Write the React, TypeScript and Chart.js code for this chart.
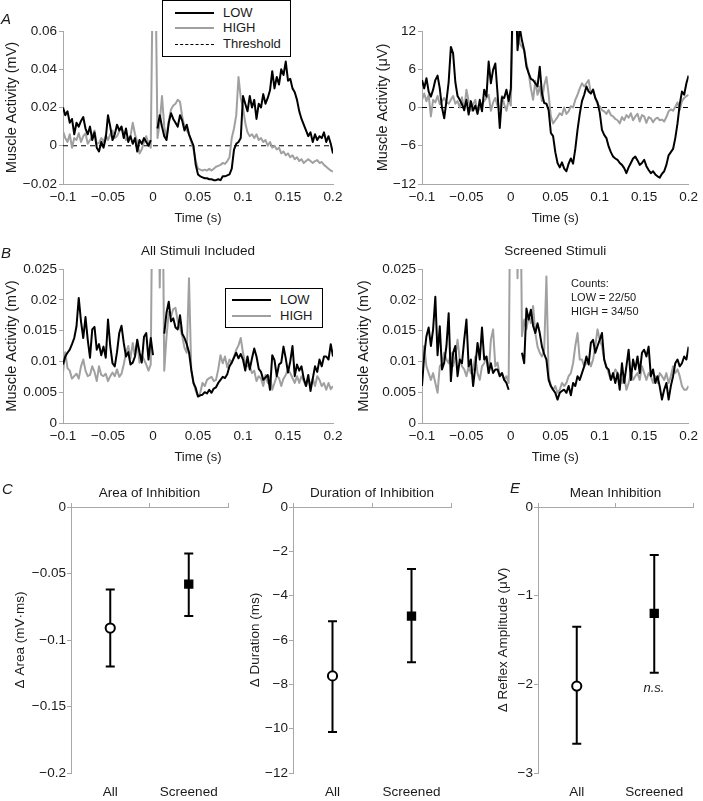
import React, { useEffect, useRef } from 'react';
import { Chart, registerables } from 'chart.js';

Chart.register(...registerables);

const FONT = "'Liberation Sans', Arial, Helvetica, sans-serif";
const TEXT = '#1a1a1a';
const AXIS = '#a8a8a8';
const LOW_COLOR = '#000000';
const HIGH_COLOR = '#a0a0a0';

Chart.defaults.font.family = FONT;
Chart.defaults.color = TEXT;

// time grid: -0.1 s to 0.2 s, 2.5 ms sampling
const T_START = -0.1;
const T_STEP = 0.0025;
const X_TICKS = [-0.1, -0.05, 0, 0.05, 0.1, 0.15, 0.2];

// Panel A (left), mV
const A_LOW_MV = [
  0.02, 0.016, 0.018, 0.012, 0.014, 0.006, 0.012, 0.01, 0.013, 0.015,
  0.009, 0.006, 0.01, 0.003, 0.007, -0.001, -0.003, 0.002, -0.001, 0.004,
  0.016, 0.01, 0.003, 0.006, 0.011, 0.008, 0.01, 0.004, 0.009, 0.002,
  0.005, 0.001, 0.004, -0.003, 0.003, 0.001, 0.004, 0.002, 0.0, 0.003,
  null, null, 0.009, 0.016, 0.01, 0.005, 0.003, 0.012, 0.017, 0.014,
  0.012, 0.01, 0.016, 0.013, 0.008, 0.011, 0.006, 0.003, 0.0, -0.01,
  -0.015, -0.016, -0.0165, -0.017, -0.017, -0.0175, -0.0175, -0.018, -0.018, -0.0175,
  -0.018, -0.016, -0.016, -0.0155, -0.015, -0.012, -0.002, 0.001, 0.002, 0.004,
  0.026, 0.022, 0.018, 0.026, 0.02, 0.024, 0.014, 0.022, 0.02, 0.027,
  0.022, 0.025, 0.029, 0.039, 0.03, 0.036, 0.032, 0.04, 0.037, 0.044,
  0.034, 0.035, 0.03, 0.028, 0.024, 0.018, 0.014, 0.011, 0.008, 0.005,
  0.007, 0.002, 0.006, 0.003, 0.005, 0.004, 0.007, 0.002, 0.005, 0.001,
  -0.004,
];
const A_HIGH_MV = [
  0.0075, 0.004, 0.002, 0.006, -0.001, 0.004, 0.003, 0.0065, 0.002, 0.005,
  0.0065, 0.001, 0.003, 0.005, 0.008, 0.001, 0.0015, 0.004, 0.002, 0.0055,
  0.003, 0.006, 0.008, 0.004, 0.005, 0.0075, 0.01, 0.006, 0.003, 0.004,
  0.005, 0.012, 0.006, 0.002, -0.004, -0.002, 0.002, 0.005, 0.001, -0.001,
  0.1, 0.1, 0.004, 0.012, 0.026, 0.01, 0.004, 0.013, 0.019, 0.021,
  0.022, 0.024, 0.023, 0.015, 0.01, 0.008, 0.006, 0.002, -0.002, -0.008,
  -0.012, -0.0125, -0.013, -0.0125, -0.013, -0.012, -0.013, -0.012, -0.011, -0.0105,
  -0.01, -0.009, -0.0095, -0.008, -0.006, 0.004, 0.009, 0.016, 0.036, 0.025,
  0.02, 0.012, 0.007, 0.005, 0.006, 0.004, 0.006, 0.003, 0.004, 0.002,
  0.003, 0.0, 0.002, -0.001, 0.0, -0.002, -0.001, -0.004, -0.003, -0.005,
  -0.004, -0.006, -0.005, -0.007, -0.006, -0.008, -0.007, -0.009, -0.008, -0.007,
  -0.008, -0.009, -0.008, -0.0075, -0.009, -0.0085, -0.01, -0.011, -0.012, -0.013,
  -0.0135,
];

// Panel A (right), µV
const A_LOW_UV = [
  4.3, 3.0, 4.6, 2.5, 1.7, 2.8, 4.3, 5.0, 3.0, 0.0,
  -1.7, 1.0, 4.0, 9.5, 8.5, 4.0, 1.8, 1.2, 0.5, -0.4,
  1.2, -1.1, 1.0, -0.5, 0.3, -1.0, 1.2, -0.6, 2.8, 1.7,
  7.2, 3.8, 5.9, 6.9, 2.2, -3.2, 1.6, 1.5, 2.8, 1.0,
  3.0, 20, 20, 9, 12.5, 10.5, 9, 6.4, 5.4, 4.5,
  4.3, 3.8, 3.3, 6.4, 2.2, 0.7, 0.6, -0.4, -4.0, -4.5,
  -7.0, -8.7, -9.4, -8.6, -9.6, -10, -8.8, -8.0, -8.8, -6.5,
  -3.5, -1.0, 1.0, 2.0, 3.3, 2.5, 2.2, 2.8, 1.5, 0.8,
  -0.8, -3.5, -4.3, -4.8, -6.1, -7.0, -7.7, -8.0, -8.2, -8.7,
  -9.0, -9.5, -10.3, -9.4, -8.7, -8.0, -7.7, -8.3, -9.0, -8.7,
  -8.2, -9.2, -9.8, -10.3, -10.0, -10.5, -10.8, -11.0, -10.4, -10.0,
  -9.0, -7.5, -7.0, -6.5, -4.8, -2.5, 0.5, 2.5, 2.0, 3.8,
  5.0,
];
const A_HIGH_UV = [
  1.2, 2.2, 1.0, 2.0, -1.4, 1.2, 0.8, 1.8, 0.5, 1.0,
  1.5, 0.8, 0.6, 1.2, 1.8, 0.6, 1.0, 0.0, 1.6, -0.5,
  2.8, 1.0, -0.5, 0.5, 1.2, -0.8, 0.0, 0.6, 1.0, 1.5,
  2.0, -0.5, 0.8, 1.5, 0.2, -0.3, 1.8, 0.5, -0.5, 1.2,
  0.3, 20, 20, 15, 10, 9.5, 9, 7, 5.4, 3,
  1.2, 4.2, 2.0, 3.3, 1.0, 3.5, 4.8, 2.0, -1.4, -2.5,
  -2.0, -1.5, -0.9, -1.2, 0.0, -1.0, -0.6, 0.2, 0.0, 1.2,
  2.0, 3.0, 3.8, 3.3, 3.8, 4.3, 2.2, 2.8, 1.5, 0.5,
  0.2, -0.4, -0.6, -1.0, -0.4, -1.2, -1.4, -1.8, -2.0, -2.5,
  -1.5, -2.0, -1.2, -1.6, -0.9, -2.0, -1.4, -1.0, -2.2, -1.2,
  -1.4, -2.4, -1.5, -1.7, -2.3, -1.8, -1.6, -2.0, -1.9, -2.2,
  -1.5, -0.6, -0.3, -0.5, 0.1, 0.8, -0.4, 1.0, 1.5, 1.8,
  2.0,
];

// Panel B (left), all stimuli, mV
const B_ALL_LOW = [
  0.0095, 0.0108, 0.0114, 0.0119, 0.0128, 0.0138, 0.0157, 0.0203, 0.0165, 0.0138,
  0.0172, 0.0135, 0.0106, 0.0152, 0.0156, 0.0119, 0.0128, 0.011, 0.0124, 0.0106,
  0.0168, 0.0125, 0.0097, 0.0092, 0.0115, 0.0146, 0.0158, 0.013, 0.0108, 0.0115,
  0.0095, 0.0098, 0.0108, 0.0135, 0.0115, 0.0098, 0.014, 0.0146, 0.0103, 0.0138,
  0.011, null, null, null, null, 0.0145, 0.0179, 0.0197, 0.0165, 0.017,
  0.0155, 0.0152, 0.0175, 0.0145, 0.0138, 0.0128, 0.0115, 0.0087, 0.0065, 0.0057,
  0.0043, 0.0045, 0.0046, 0.005, 0.0048, 0.0054, 0.0049, 0.0056, 0.0058, 0.0065,
  0.007, 0.0075, 0.0073, 0.0079, 0.0092, 0.0098, 0.0106, 0.0114, 0.0105, 0.0112,
  0.0103, 0.0085, 0.0108, 0.0087, 0.0105, 0.0121, 0.0108, 0.0088, 0.0083, 0.007,
  0.0074, 0.0078, 0.0054, 0.011, 0.0102, 0.0076, 0.0095, 0.0098, 0.0124, 0.0105,
  0.0082, 0.01, 0.0125, 0.0076, 0.0095, 0.0085, 0.0092, 0.0072, 0.006, 0.0078,
  0.0052, 0.0072, 0.0092, 0.0083, 0.0103, 0.0092, 0.0108, 0.0108, 0.0103, 0.0128,
  0.0108,
];
const B_ALL_HIGH = [
  0.0082, 0.0115, 0.0089, 0.0085, 0.0072, 0.0076, 0.008, 0.0072, 0.0092, 0.0103,
  0.0085, 0.0076, 0.0078, 0.0092, 0.0083, 0.0068, 0.0092, 0.0078, 0.0076, 0.008,
  0.0068, 0.0076, 0.0082, 0.0076, 0.0087, 0.0075, 0.008, 0.0095, 0.0114, 0.0125,
  0.0105, 0.013, 0.0108, 0.0135, 0.0098, 0.011, 0.0103, 0.0095, 0.0085, 0.0095,
  0.05, 0.05, 0.05, 0.022, 0.05, 0.0085, 0.014, 0.018, 0.0173, 0.0185,
  0.0187, 0.0165, 0.0155, 0.0141, 0.0122, 0.0114, 0.0235, 0.0085, 0.0065, 0.0052,
  0.0043, 0.0049, 0.0065, 0.006, 0.007, 0.0073, 0.0075, 0.0068, 0.007, 0.0087,
  0.011, 0.0097, 0.0108, 0.009, 0.0103, 0.0098, 0.0108, 0.0119, 0.0126, 0.0138,
  0.0114, 0.0097, 0.0092, 0.0092, 0.0081, 0.0085, 0.0068, 0.0076, 0.0072, 0.006,
  0.0078, 0.0065, 0.0076, 0.0054, 0.0065, 0.0076, 0.0073, 0.006, 0.0072, 0.0078,
  0.0087, 0.0081, 0.0073, 0.0065, 0.0076, 0.0065, 0.0076, 0.0068, 0.006, 0.007,
  0.0062, 0.0072, 0.006, 0.0076, 0.007, 0.006, 0.0065, 0.0054, 0.0065, 0.0055,
  0.006,
];

// Panel B (right), screened stimuli, mV
const B_SCR_LOW = [
  0.006, 0.011, 0.0141, 0.0155, 0.0125, 0.0152, 0.0205, 0.011, 0.0157, 0.0087,
  0.0098, 0.0125, 0.0178, 0.0068, 0.0114, 0.0125, 0.0076, 0.0103, 0.0097, 0.0135,
  0.0168, 0.0092, 0.0103, 0.006, 0.0092, 0.013, 0.0103, 0.0155, 0.0103, 0.0108,
  0.0081, 0.0097, 0.0081, 0.0087, 0.0087, 0.0076, 0.0081, 0.007, 0.0065, 0.0054,
  null, null, null, null, null, 0.0114, 0.0097, 0.0186, 0.0168, 0.0184,
  0.0158, 0.0146, 0.0162, 0.0146, 0.0124, 0.0112, 0.0103, 0.007, 0.006, 0.0054,
  0.0049, 0.0038, 0.0049, 0.0052, 0.0054, 0.0049, 0.006, 0.0045, 0.0065, 0.006,
  0.0076, 0.007, 0.0081, 0.0092, 0.0108, 0.0095, 0.013, 0.0135, 0.0114, 0.0125,
  0.0135, 0.0146, 0.0103, 0.009, 0.0087, 0.007, 0.0081, 0.0065, 0.0081, 0.0054,
  0.0097, 0.0065, 0.0092, 0.0119, 0.007, 0.0103, 0.0087, 0.0108, 0.0081, 0.0114,
  0.0119, 0.0108, 0.0124, 0.0076, 0.0087, 0.0065, 0.0076, 0.0059, 0.0038, 0.0054,
  0.0065, 0.0038, 0.006, 0.0076, 0.0097, 0.0103, 0.0092, 0.0097, 0.0108, 0.0103,
  0.0124,
];
const B_SCR_HIGH = [
  0.0103, 0.0125, 0.0092, 0.0081, 0.007, 0.0081, 0.0065, 0.0049, 0.0092, 0.0097,
  0.0114, 0.0103, 0.0097, 0.0114, 0.0092, 0.0108, 0.0135, 0.0103, 0.0092, 0.0087,
  0.0076, 0.0092, 0.0081, 0.0087, 0.0108, 0.0081, 0.007, 0.0092, 0.0097, 0.0108,
  0.0081, 0.0135, 0.0152, 0.0092, 0.0098, 0.0076, 0.0081, 0.007, 0.0076, 0.0065,
  0.05, 0.05, 0.05, 0.0235, 0.05, 0.0141, 0.0168, 0.0152, 0.0173, 0.0162,
  0.019, 0.0146, 0.0124, 0.0114, 0.0108, 0.0119, 0.0238, 0.0076, 0.006, 0.0054,
  0.006, 0.0049, 0.0054, 0.0065, 0.006, 0.0065, 0.0076, 0.0081, 0.0097, 0.0125,
  0.0146, 0.0103, 0.0103, 0.0092, 0.0097, 0.0103, 0.0092, 0.0103, 0.0125, 0.0152,
  0.0135, 0.0125, 0.0103, 0.0092, 0.0081, 0.007, 0.0076, 0.0087, 0.0081, 0.0076,
  0.0065, 0.0076, 0.0054, 0.0065, 0.0081, 0.007, 0.0076, 0.0081, 0.007, 0.0092,
  0.0081, 0.007, 0.0081, 0.0076, 0.0065, 0.0076, 0.0065, 0.0081, 0.0076, 0.007,
  0.0081, 0.0065, 0.0076, 0.0092, 0.0081, 0.0087, 0.0076, 0.006, 0.0054, 0.0054,
  0.006,
];

// Panels C–E: group summaries (mean and error-bar limits)
const GROUPS = ['All', 'Screened'];
const AREA_MEAN = [-0.091, -0.058];
const AREA_LOW = [-0.12, -0.082];
const AREA_HIGH = [-0.062, -0.035];
const DUR_MEAN = [-7.62, -4.92];
const DUR_LOW = [-10.15, -7.0];
const DUR_HIGH = [-5.15, -2.8];
const AMP_MEAN = [-2.02, -1.2];
const AMP_LOW = [-2.67, -1.87];
const AMP_HIGH = [-1.35, -0.54];

const fmt = (v: number | string) => {
  let n = Number(Number(v).toFixed(4));
  if (Object.is(n, -0)) n = 0;
  return n.toString().replace('-', '\u2212');
};

const toPoints = (vals: (number | null)[]) =>
  vals.map((v, i) => ({ x: Number((T_START + i * T_STEP).toFixed(4)), y: v }));

type LineOpts = {
  low: (number | null)[];
  high: (number | null)[];
  threshold: boolean;
  yMin: number;
  yMax: number;
  yTicks: number[];
  yTitle: string;
  yWidth: number;
  yTitlePad: number;
  padTop: number;
  padRight: number;
  xHeight: number;
  xTitlePad: number;
  title?: string;
  titlePadBottom?: number;
};

function lineConfig(p: LineOpts): any {
  const datasets: any[] = [
    {
      label: 'LOW',
      data: toPoints(p.low),
      borderColor: LOW_COLOR,
      borderWidth: 2,
      pointRadius: 0,
      tension: 0,
      spanGaps: false,
      borderJoinStyle: 'round',
    },
    {
      label: 'HIGH',
      data: toPoints(p.high),
      borderColor: HIGH_COLOR,
      borderWidth: 2,
      pointRadius: 0,
      tension: 0,
      spanGaps: false,
      borderJoinStyle: 'round',
    },
  ];
  if (p.threshold) {
    datasets.push({
      label: 'Threshold',
      data: [
        { x: X_TICKS[0], y: 0 },
        { x: X_TICKS[X_TICKS.length - 1], y: 0 },
      ],
      borderColor: '#000',
      borderWidth: 1.2,
      borderDash: [5, 4],
      pointRadius: 0,
    });
  }
  return {
    type: 'line',
    data: { datasets },
    options: {
      animation: false,
      responsive: false,
      devicePixelRatio: 1,
      layout: { padding: { left: 0, top: p.padTop, right: p.padRight, bottom: 0 } },
      plugins: {
        legend: { display: false },
        tooltip: { enabled: false },
        title: p.title
          ? {
              display: true,
              text: p.title,
              fullSize: false,
              font: { size: 13.5, weight: 'normal', family: FONT },
              color: TEXT,
              padding: { top: 0, bottom: p.titlePadBottom ?? 0 },
            }
          : { display: false },
      },
      scales: {
        x: {
          type: 'linear',
          min: X_TICKS[0],
          max: X_TICKS[X_TICKS.length - 1],
          afterBuildTicks: (s: any) => {
            s.ticks = X_TICKS.map((v) => ({ value: v }));
          },
          ticks: { callback: fmt, padding: 5, font: { size: 13.5 }, color: TEXT, maxRotation: 0, autoSkip: false },
          grid: { display: false, drawTicks: false, tickLength: 0 },
          border: { color: AXIS, width: 1 },
          title: {
            display: true,
            text: 'Time (s)',
            font: { size: 13 },
            color: TEXT,
            padding: { top: 0, bottom: p.xTitlePad },
          },
          afterFit: (s: any) => {
            s.height = p.xHeight;
          },
        },
        y: {
          type: 'linear',
          min: p.yMin,
          max: p.yMax,
          afterBuildTicks: (s: any) => {
            s.ticks = p.yTicks.map((v) => ({ value: v }));
          },
          ticks: { callback: fmt, padding: 2, font: { size: 13.5 }, color: TEXT },
          grid: { drawOnChartArea: false, drawTicks: true, tickLength: 4, color: AXIS },
          border: { color: AXIS, width: 1 },
          title: {
            display: true,
            text: p.yTitle,
            font: { size: 14.5 },
            color: TEXT,
            padding: { top: p.yTitlePad, bottom: 0 },
          },
          afterFit: (s: any) => {
            s.width = p.yWidth;
          },
        },
      },
    },
  };
}

type ErrOpts = {
  mean: number[];
  low: number[];
  high: number[];
  yMin: number;
  yMax: number;
  yTicks: number[];
  yTitle: string;
  yWidth: number;
  yTitlePad: number;
  padRight: number;
  title: string;
};

function errConfig(p: ErrOpts): any {
  const bar = (i: number) => ({
    data: [
      { x: GROUPS[i], y: p.low[i] },
      { x: GROUPS[i], y: p.high[i] },
    ],
    borderColor: '#000',
    borderWidth: 2,
    pointStyle: 'line',
    pointRadius: 4.5,
    pointBorderWidth: 2,
    pointBorderColor: '#000',
    pointBackgroundColor: '#000',
    tension: 0,
  });
  return {
    type: 'line',
    data: {
      labels: GROUPS,
      datasets: [
        {
          data: [{ x: GROUPS[0], y: p.mean[0] }],
          showLine: false,
          pointStyle: 'circle',
          pointRadius: 4.6,
          pointBorderWidth: 2,
          pointBorderColor: '#000',
          pointBackgroundColor: '#fff',
        },
        {
          data: [{ x: GROUPS[1], y: p.mean[1] }],
          showLine: false,
          pointStyle: 'rect',
          pointRadius: 6.6,
          pointBorderWidth: 0,
          pointBorderColor: '#000',
          pointBackgroundColor: '#000',
        },
        bar(0),
        bar(1),
      ],
    },
    options: {
      animation: false,
      responsive: false,
      devicePixelRatio: 1,
      layout: { padding: { left: 0, top: 16.9, right: p.padRight, bottom: 0 } },
      plugins: {
        legend: { display: false },
        tooltip: { enabled: false },
        title: {
          display: true,
          text: p.title,
          fullSize: false,
          font: { size: 13.5, weight: 'normal', family: FONT },
          color: TEXT,
          padding: { top: 0, bottom: 1.9 },
        },
      },
      scales: {
        x: {
          type: 'category',
          labels: GROUPS,
          offset: true,
          grid: { display: false, drawTicks: false, tickLength: 0 },
          border: { display: false },
          ticks: { padding: 11, font: { size: 13.5 }, color: TEXT },
          afterFit: (s: any) => {
            s.height = 28;
          },
        },
        x2: {
          type: 'category',
          labels: GROUPS,
          position: 'top',
          offset: true,
          grid: { offset: true, drawOnChartArea: false, drawTicks: true, tickLength: 4, color: AXIS },
          border: { color: AXIS, width: 1 },
          ticks: { display: false },
          afterFit: (s: any) => {
            s.height = 4;
          },
        },
        y: {
          type: 'linear',
          min: p.yMin,
          max: p.yMax,
          afterBuildTicks: (s: any) => {
            s.ticks = p.yTicks.map((v) => ({ value: v }));
          },
          ticks: { callback: fmt, padding: 1, font: { size: 13.5 }, color: TEXT },
          grid: { drawOnChartArea: false, drawTicks: true, tickLength: 4, color: AXIS },
          border: { color: AXIS, width: 1 },
          title: {
            display: true,
            text: p.yTitle,
            font: { size: 13.5 },
            color: TEXT,
            padding: { top: p.yTitlePad, bottom: 0 },
          },
          afterFit: (s: any) => {
            s.width = p.yWidth;
          },
        },
      },
    },
  };
}

function ChartCanvas(props: { left: number; top: number; width: number; height: number; make: () => any }) {
  const ref = useRef<HTMLCanvasElement>(null);
  useEffect(() => {
    const chart = new Chart(ref.current as HTMLCanvasElement, props.make());
    return () => chart.destroy();
  }, []);
  return (
    <canvas
      ref={ref}
      width={props.width}
      height={props.height}
      style={{ position: 'absolute', left: props.left, top: props.top, width: props.width, height: props.height }}
    />
  );
}

const abs = (left: number, top: number, extra: React.CSSProperties = {}): React.CSSProperties => ({
  position: 'absolute',
  left,
  top,
  ...extra,
});

function Letter({ x, y, t }: { x: number; y: number; t: string }) {
  return (
    <div style={abs(x, y, { fontSize: 15, fontStyle: 'italic', lineHeight: '15px', color: TEXT, transform: 'translateY(-50%)' })}>
      {t}
    </div>
  );
}

function LegendRow({ x, y, lineW, text, color, dashed, width }: any) {
  return (
    <div style={abs(x, y, { display: 'flex', alignItems: 'center', transform: 'translateY(-50%)', height: 16 })}>
      <div
        style={{
          width: lineW,
          height: 0,
          borderTop: dashed ? `1.5px dashed ${color}` : `${width}px solid ${color}`,
          marginRight: 9,
        }}
      />
      <span style={{ fontSize: 13, color: TEXT, lineHeight: '16px' }}>{text}</span>
    </div>
  );
}

export default function App() {
  return (
    <div style={{ position: 'absolute', left: 0, top: 0, width: 703, height: 801, background: '#fff', fontFamily: FONT }}>
      <ChartCanvas
        left={0}
        top={0}
        width={350}
        height={228}
        make={() =>
          lineConfig({
            low: A_LOW_MV,
            high: A_HIGH_MV,
            threshold: true,
            yMin: -0.02,
            yMax: 0.06,
            yTicks: [-0.02, 0, 0.02, 0.04, 0.06],
            yTitle: 'Muscle Activity (mV)',
            yWidth: 63,
            yTitlePad: 3,
            padTop: 31,
            padRight: 17,
            xHeight: 44,
            xTitlePad: 2,
          })
        }
      />
      <ChartCanvas
        left={350}
        top={0}
        width={353}
        height={228}
        make={() =>
          lineConfig({
            low: A_LOW_UV,
            high: A_HIGH_UV,
            threshold: true,
            yMin: -12,
            yMax: 12,
            yTicks: [-12, -6, 0, 6, 12],
            yTitle: 'Muscle Activity (\u03bcV)',
            yWidth: 72,
            yTitlePad: 24,
            padTop: 31,
            padRight: 12,
            xHeight: 44,
            xTitlePad: 2,
          })
        }
      />
      <ChartCanvas
        left={0}
        top={228}
        width={350}
        height={240}
        make={() =>
          lineConfig({
            low: B_ALL_LOW,
            high: B_ALL_HIGH,
            threshold: false,
            yMin: 0,
            yMax: 0.025,
            yTicks: [0, 0.005, 0.01, 0.015, 0.02, 0.025],
            yTitle: 'Muscle Activity (mV)',
            yWidth: 63,
            yTitlePad: 3,
            padTop: 14.9,
            padRight: 17,
            xHeight: 45,
            xTitlePad: 3,
            title: 'All Stimuli Included',
            titlePadBottom: 9.9,
          })
        }
      />
      <ChartCanvas
        left={350}
        top={228}
        width={353}
        height={240}
        make={() =>
          lineConfig({
            low: B_SCR_LOW,
            high: B_SCR_HIGH,
            threshold: false,
            yMin: 0,
            yMax: 0.025,
            yTicks: [0, 0.005, 0.01, 0.015, 0.02, 0.025],
            yTitle: 'Muscle Activity (mV)',
            yWidth: 72,
            yTitlePad: 5,
            padTop: 14.9,
            padRight: 11,
            xHeight: 45,
            xTitlePad: 3,
            title: 'Screened Stimuli',
            titlePadBottom: 9.9,
          })
        }
      />
      <ChartCanvas
        left={0}
        top={468}
        width={240}
        height={333}
        make={() =>
          errConfig({
            mean: AREA_MEAN,
            low: AREA_LOW,
            high: AREA_HIGH,
            yMin: -0.2,
            yMax: 0,
            yTicks: [-0.2, -0.15, -0.1, -0.05, 0],
            yTitle: '\u0394 Area (mV\u00b7ms)',
            yWidth: 71,
            yTitlePad: 12,
            padRight: 12,
            title: 'Area of Inhibition',
          })
        }
      />
      <ChartCanvas
        left={240}
        top={468}
        width={230}
        height={333}
        make={() =>
          errConfig({
            mean: DUR_MEAN,
            low: DUR_LOW,
            high: DUR_HIGH,
            yMin: -12,
            yMax: 0,
            yTicks: [-12, -10, -8, -6, -4, -2, 0],
            yTitle: '\u0394 Duration (ms)',
            yWidth: 53,
            yTitlePad: 7,
            padRight: 19,
            title: 'Duration of Inhibition',
          })
        }
      />
      <ChartCanvas
        left={470}
        top={468}
        width={233}
        height={333}
        make={() =>
          errConfig({
            mean: AMP_MEAN,
            low: AMP_LOW,
            high: AMP_HIGH,
            yMin: -3,
            yMax: 0,
            yTicks: [-3, -2, -1, 0],
            yTitle: '\u0394 Reflex Amplitude (\u03bcV)',
            yWidth: 68,
            yTitlePad: 25,
            padRight: 10,
            title: 'Mean Inhibition',
          })
        }
      />

      {/* Legend, panel A */}
      <div style={abs(162, 0, { width: 127, height: 55, border: '1.5px solid #000', background: '#fff' })} />
      <LegendRow x={175} y={13} lineW={39} text="LOW" color={LOW_COLOR} width={2.5} />
      <LegendRow x={175} y={28} lineW={39} text="HIGH" color={HIGH_COLOR} width={2.5} />
      <LegendRow x={175} y={44} lineW={39} text="Threshold" color="#000" dashed />

      {/* Legend, panel B */}
      <div style={abs(225, 288, { width: 96, height: 38, border: '1.5px solid #000', background: '#fff' })} />
      <LegendRow x={232} y={300} lineW={39} text="LOW" color={LOW_COLOR} width={2.2} />
      <LegendRow x={232} y={316} lineW={39} text="HIGH" color={HIGH_COLOR} width={2.2} />

      {/* Counts, panel B right */}
      <div style={abs(571, 276, { fontSize: 11, lineHeight: '14px', color: TEXT })}>
        <div>Counts:</div>
        <div>LOW = 22/50</div>
        <div>HIGH = 34/50</div>
      </div>

      {/* n.s. label, panel E */}
      <div style={abs(654, 687, { fontSize: 13, fontStyle: 'italic', color: TEXT, transform: 'translate(-50%, -50%)' })}>n.s.</div>

      <Letter x={1} y={18} t="A" />
      <Letter x={1} y={252} t="B" />
      <Letter x={2} y={488} t="C" />
      <Letter x={262} y={487} t="D" />
      <Letter x={510} y={487} t="E" />
    </div>
  );
}
